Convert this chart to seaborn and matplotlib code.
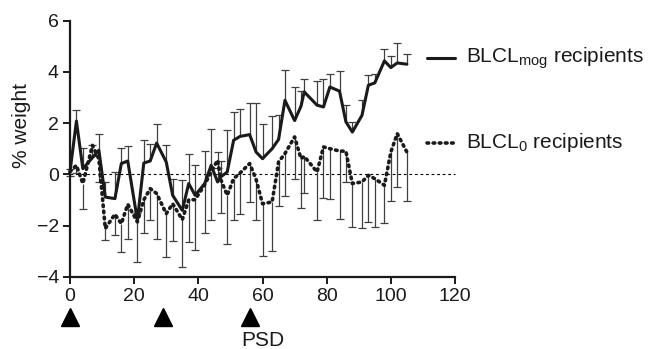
import numpy as np
import pandas as pd
import matplotlib
matplotlib.use("Agg")
import matplotlib.pyplot as plt
import seaborn as sns
from matplotlib.lines import Line2D
from matplotlib.transforms import blended_transform_factory

# ---- data ----
days = [0, 2, 4, 7, 9, 11, 14, 16, 18, 21, 23, 25, 27, 30, 32, 35, 37, 39, 42, 44,
        46, 47, 49, 51, 53, 56, 58, 60, 63, 65, 67, 70, 72, 73, 77, 79, 81, 84, 86,
        88, 91, 93, 95, 98, 100, 102, 105]
mog_mean = [0.10, 2.08, 0.22, 0.65, 0.94, -0.89, -0.95, 0.42, 0.52, -1.80, 0.44, 0.52,
            1.22, 0.48, -0.82, -1.41, -0.36, -0.82, -0.36, 0.35, -0.30, -0.10, 0.09,
            1.33, 1.48, 1.55, 0.87, 0.61, 1.00, 1.36, 2.89, 2.10, 2.66, 3.22, 2.70,
            2.63, 3.41, 3.25, 2.05, 1.65, 2.30, 3.48, 3.57, 4.43, 4.17, 4.35, 4.30]
mog_err = [0.10, 0.42, 0.80, 0.50, 0.62, 0.60, 1.04, 0.60, 0.60, 0.30, 0.90, 0.68,
           0.73, 0.68, 0.65, 1.18, 1.17, 1.17, 1.27, 1.40, 1.17, 0.60, 1.65, 1.10,
           1.09, 1.24, 1.90, 1.37, 1.28, 0.94, 1.17, 1.31, 0.60, 0.50, 0.94, 1.10,
           0.52, 0.80, 0.66, 0.40, 0.60, 0.40, 0.36, 0.45, 0.45, 0.79, 0.41]
zero_mean = [0.10, 0.35, -0.36, 1.13, 0.60, -2.12, -1.56, -1.93, -1.17, -1.86, -1.00,
             -0.56, -0.75, -1.54, -1.15, -1.77, -1.00, -0.99, -0.40, 0.10, 0.55, -0.20,
             -0.82, -0.17, 0.05, 0.42, -0.20, -1.15, -1.08, 0.48, 0.81, 1.46, 0.61,
             0.70, 0.09, 1.07, 1.00, 0.91, 0.90, -0.36, -0.30, -0.04, -0.17, -0.43,
             0.87, 1.59, 0.87]
zero_err = [0.15, 0.30, 0.98, 0.40, 0.90, 0.43, 0.80, 1.10, 1.34, 1.56, 1.30, 1.24,
            1.76, 1.70, 1.47, 1.85, 1.66, 1.95, 1.90, 1.90, 0.30, 1.30, 1.89, 1.60,
            1.60, 1.50, 1.60, 2.04, 1.90, 1.73, 1.67, 1.63, 1.92, 1.42, 1.89, 2.00,
            1.95, 2.64, 1.20, 1.70, 1.80, 1.84, 1.88, 1.49, 1.92, 2.09, 1.91]
x_ticks = [0, 20, 40, 60, 80, 100, 120]
y_ticks = [-4, -2, 0, 2, 4, 6]
injection_days = [0, 29, 56]
legend_labels = [r"BLCL$_{mog}$ recipients", r"BLCL$_{0}$ recipients"]
y_label = "% weight"
psd_label = "PSD"
psd_day = 60

sns.set_theme(style="ticks")
plt.rcParams["font.family"] = ["Liberation Sans", "DejaVu Sans"]
plt.rcParams["mathtext.default"] = "regular"

ink = "#1a1a1a"
dots = (0, (0.45, 1.25))
fig = plt.figure(figsize=(6.62, 3.49), dpi=100)
ax = fig.add_axes([70 / 662, 1 - 276.7 / 349, 385 / 662, 256 / 349])

df = pd.DataFrame({"day": days, "mog": mog_mean, "zero": zero_mean})
mog_top = np.array(mog_mean) + np.array(mog_err)
zero_bot = np.array(zero_mean) - np.array(zero_err)

# error bars (one-sided: up for mog, down for 0)
ax.vlines(days, mog_mean, mog_top, color="#404040", lw=0.9, zorder=2)
ax.plot(days, mog_top, ls="none", marker="_", ms=6, mew=0.9, color="#404040", zorder=2)
ax.vlines(days, zero_bot, zero_mean, color="#404040", lw=0.9, zorder=2)
ax.plot(days, zero_bot, ls="none", marker="_", ms=6, mew=0.9, color="#404040", zorder=2)

ax.axhline(0, color="black", lw=0.8, ls=(0, (2.5, 2.5)), zorder=1)

sns.lineplot(data=df, x="day", y="mog", ax=ax, color=ink, lw=2.2, zorder=4)
sns.lineplot(data=df, x="day", y="zero", ax=ax, color=ink, lw=2.6, zorder=4,
             linestyle=dots)
ax.lines[-1].set_dash_capstyle("round")
for ln in ax.lines:
    ln.set_clip_on(False)

ax.set_xlim(0, 120)
ax.set_ylim(-4, 6)
ax.set_xticks(x_ticks)
ax.set_yticks(y_ticks)
ax.set_xlabel("")
ax.set_ylabel(y_label, fontsize=15, color=ink)
ax.yaxis.set_label_coords(-0.1, 0.59)
sns.despine(ax=ax)
for s in ["left", "bottom"]:
    ax.spines[s].set_linewidth(1.6)
    ax.spines[s].set_color(ink)
ax.tick_params(axis="both", direction="out", length=5, width=1.4, color=ink,
               labelsize=14, labelcolor=ink, pad=3)

# injection markers and PSD label
tr = blended_transform_factory(ax.transData, ax.transAxes)
ax.plot(injection_days, [-0.159] * len(injection_days), ls="none", marker="^",
        ms=12.5, color="black", transform=tr, clip_on=False)
ax.text(psd_day, -0.248, psd_label, transform=tr, ha="center", va="center",
        fontsize=15, color=ink)

# legend drawn by hand
for yy, ls, lab in [(58.3, "-", legend_labels[0]), (142.5, dots, legend_labels[1])]:
    fig.add_artist(Line2D([427 / 662, 455 / 662], [1 - yy / 349] * 2, color=ink,
                          lw=2.2 if ls == "-" else 2.6, ls=ls, dash_capstyle="round"))
    fig.text(466 / 662, 1 - yy / 349, lab, ha="left", va="center", fontsize=15, color=ink)

fig.savefig("out.png", dpi=100)
